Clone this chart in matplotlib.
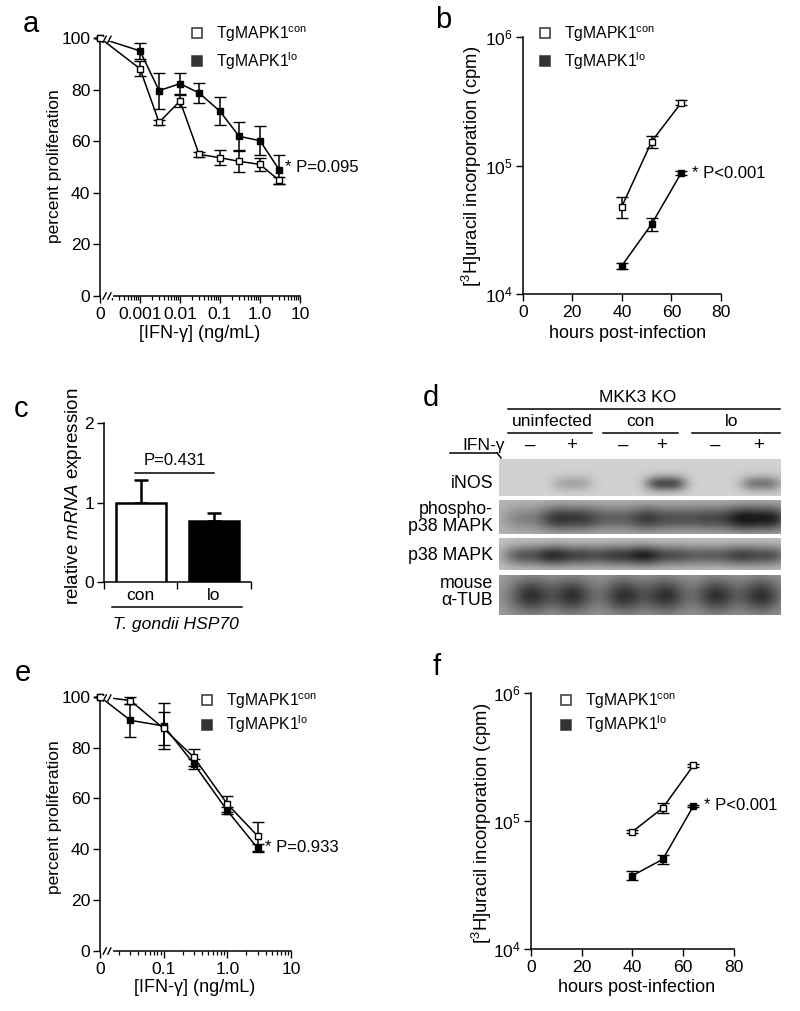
import numpy as np
import matplotlib
matplotlib.use('Agg')
import matplotlib.pyplot as plt
from matplotlib.lines import Line2D
from matplotlib.ticker import FixedLocator, NullLocator

W, H = 800, 1011
HF = 'Liberation Sans'
VF = 'Liberation Sans'

plt.rcParams['font.family'] = [HF, 'DejaVu Sans']
plt.rcParams['mathtext.fontset'] = 'custom'
plt.rcParams['mathtext.rm'] = HF
plt.rcParams['mathtext.it'] = HF + ':italic'
plt.rcParams['mathtext.sf'] = HF
plt.rcParams['axes.linewidth'] = 1.1

TICK = 12.6
XLAB = 13.0
LEG = 11.3
PTXT = 12.0
LET = 21

# ---------------- data ----------------
# panel a
a_dose = [0, 0.001, 0.003, 0.01, 0.03, 0.1, 0.3, 1.0, 3.0]
a_con = [100, 88.1, 67.3, 75.6, 54.9, 53.6, 52.2, 51.0, 44.8]
a_con_err = [0, 3.0, 1.0, 2.5, 1.0, 3.0, 4.0, 2.5, 1.5]
a_lo = [100, 95.0, 79.6, 82.3, 78.7, 71.6, 61.9, 60.2, 49.0]
a_lo_err = [0, 3.0, 7.0, 4.0, 4.0, 5.5, 5.5, 5.5, 5.5]
a_ticklabels = ['0', '0.001', '0.01', '0.1', '1.0', '10']

# panel b
b_hours = [40, 52, 64]
b_con = [4.8e4, 1.54e5, 3.1e5]
b_con_err = [9e3, 1.6e4, 1.5e4]
b_lo = [1.66e4, 3.5e4, 8.8e4]
b_lo_err = [8e2, 4e3, 3e3]

# panel c
c_groups = ['con', 'lo']
c_vals = [1.0, 0.768]
c_err = [0.29, 0.105]

# panel d (western blot)
d_rows = ['iNOS', 'phospho-\np38 MAPK', 'p38 MAPK', 'mouse\nα-TUB']
d_groups = ['uninfected', 'con', 'lo']
d_ifn = ['-', '+', '-', '+', '-', '+']
d_band = [
    [0.0, 0.25, 0.0, 0.75, 0.0, 0.5],
    [0.35, 0.8, 0.55, 0.65, 0.7, 1.0],
    [0.65, 0.75, 0.8, 0.7, 0.6, 0.7],
    [0.8, 0.8, 0.8, 0.8, 0.8, 0.8],
]

# panel e
e_dose = [0, 0.03, 0.1, 0.3, 1.0, 3.0]
e_con = [100, 98.5, 87.5, 76.1, 57.8, 45.2]
e_con_err = [0, 1.5, 6.5, 3.5, 3.0, 5.7]
e_lo = [100, 90.7, 88.5, 73.5, 55.2, 40.4]
e_lo_err = [0, 6.5, 9.0, 2.0, 1.5, 1.5]
e_ticklabels = ['0', '0.1', '1.0', '10']

# panel f
f_hours = [40, 52, 64]
f_con = [8.2e4, 1.26e5, 2.7e5]
f_con_err = [2e3, 1.1e4, 8e3]
f_lo = [3.72e4, 5.0e4, 1.3e5]
f_lo_err = [3e3, 4e3, 3e3]

legend_labels = ['TgMAPK1$^{\\mathrm{con}}$', 'TgMAPK1$^{\\mathrm{lo}}$']

# ---------------- helpers ----------------
fig = plt.figure(figsize=(W / 100, H / 100), dpi=100)
fig.patch.set_facecolor('white')


def add_ax(l, t, r, b):
    return fig.add_axes([l / W, 1 - b / H, (r - l) / W, (b - t) / H])


def ftext(x, y, s, **kw):
    kw.setdefault('ha', 'center')
    kw.setdefault('va', 'center')
    fig.text(x / W, 1 - y / H, s, **kw)


def fline(x1, y1, x2, y2, lw=1.1):
    fig.add_artist(Line2D([x1 / W, x2 / W], [1 - y1 / H, 1 - y2 / H],
                          transform=fig.transFigure, color='black', lw=lw))


def style(ax):
    for s in ['top', 'right']:
        ax.spines[s].set_visible(False)
    ax.tick_params(direction='out', length=5, width=1.0, labelsize=TICK, pad=2)
    ax.tick_params(which='minor', length=2.6, width=0.9)
    ax.patch.set_alpha(0)


def eb(ax, x, y, e, filled):
    c = ax.errorbar(x, y, yerr=e, color='black', lw=1.1, marker='s', ms=4.5,
                    mfc='black' if filled else 'white', mec='black', mew=1.0,
                    elinewidth=1.1, capsize=4, capthick=1.1,
                    zorder=3 if filled else 4)
    for art in c.get_children():
        art.set_clip_on(False)


def legend(ax, x, y, spacing):
    hs = [Line2D([], [], ls='none', marker='s', ms=7.5, mfc='white', mec='#333333', mew=1.1),
          Line2D([], [], ls='none', marker='s', ms=7.5, mfc='#333333', mec='#333333', mew=1.1)]
    ax.legend(hs, legend_labels, loc='upper left', bbox_to_anchor=(x / W, 1 - y / H),
              bbox_transform=fig.transFigure, frameon=False, fontsize=LEG,
              handlelength=0.8, handletextpad=0.8, labelspacing=spacing,
              borderpad=0, borderaxespad=0)


def breakmark(ax, xf, yf):
    ax.plot([xf - 0.02, xf + 0.02], [yf, yf], transform=ax.transAxes, color='white',
            lw=3, clip_on=False, zorder=6)
    for dx in (-0.012, 0.012):
        ax.plot([xf + dx - 0.008, xf + dx + 0.008], [yf - 0.012, yf + 0.012],
                transform=ax.transAxes, color='black', lw=1.0, clip_on=False, zorder=7)


def dose_panel(box, dose, con, con_err, lo, lo_err, zero, xmax, ticklabels, decades):
    ax = add_ax(*box)
    style(ax)
    ax.set_xscale('log')
    ax.set_xlim(zero, xmax)
    ax.set_ylim(0, 100)
    xs = [zero if d == 0 else d for d in dose]
    eb(ax, xs, lo, lo_err, True)
    eb(ax, xs, con, con_err, False)
    majors = [zero] + [10.0 ** k for k in range(int(round(np.log10(zero))) + 1,
                                                 int(round(np.log10(xmax))) + 1)]
    ax.xaxis.set_major_locator(FixedLocator(majors))
    ax.set_xticklabels(ticklabels)
    ax.xaxis.set_minor_locator(FixedLocator([k * 10.0 ** e for e in decades for k in range(2, 10)]))
    ax.set_yticks([0, 20, 40, 60, 80, 100])
    ax.tick_params(axis='x', pad=3)
    return ax


# ---------------- panel a ----------------
axa = dose_panel((100, 38, 300, 296), a_dose, a_con, a_con_err, a_lo, a_lo_err,
                 1e-4, 10, a_ticklabels, range(-4, 1))
breakmark(axa, 0.035, 0.0)
breakmark(axa, 0.035, 0.995)
legend(axa, 191, 24, 0.42)
ftext(285, 168, '* P=0.095', ha='left', fontsize=PTXT)
ftext(200, 334, '[IFN-γ] (ng/mL)', fontsize=XLAB)
ftext(55, 166, 'percent proliferation', rotation=90, family=VF, fontsize=12.5)
ftext(31, 24, 'a', fontsize=LET)

# ---------------- panel b / f ----------------
def uracil_panel(box, hours, con, con_err, lo, lo_err):
    ax = add_ax(*box)
    style(ax)
    ax.set_yscale('log')
    ax.set_ylim(1e4, 1e6)
    ax.set_xlim(0, 80)
    eb(ax, hours, lo, lo_err, True)
    eb(ax, hours, con, con_err, False)
    ax.set_yticks([1e4, 1e5, 1e6])
    ax.set_yticklabels(['$10^{4}$', '$10^{5}$', '$10^{6}$'])
    ax.yaxis.set_minor_locator(NullLocator())
    ax.set_xticks([0, 20, 40, 60, 80])
    ax.tick_params(axis='x', pad=3)
    return ax


axb = uracil_panel((522.7, 37.3, 721, 294), b_hours, b_con, b_con_err, b_lo, b_lo_err)
legend(axb, 539, 24, 0.42)
ftext(692, 174, '* P<0.001', ha='left', fontsize=PTXT)
ftext(628, 334, 'hours post-infection', fontsize=XLAB)
ftext(472, 166, '[$^{3}$H]uracil incorporation (cpm)', rotation=90, family=VF, fontsize=13.3)
ftext(443, 20, 'b', fontsize=LET)

axf = uracil_panel((530.7, 692.7, 734, 948.7), f_hours, f_con, f_con_err, f_lo, f_lo_err)
legend(axf, 560, 691, 0.2)
ftext(704, 806, '* P<0.001', ha='left', fontsize=PTXT)
ftext(637, 988, 'hours post-infection', fontsize=XLAB)
ftext(482, 823, '[$^{3}$H]uracil incorporation (cpm)', rotation=90, family=VF, fontsize=13.3)
ftext(437, 667, 'f', fontsize=LET)

# ---------------- panel e ----------------
axe = dose_panel((100, 696.7, 291, 951), e_dose, e_con, e_con_err, e_lo, e_lo_err,
                 1e-2, 10, e_ticklabels, range(-2, 1))
breakmark(axe, 0.037, 0.0)
breakmark(axe, 0.037, 0.995)
legend(axe, 201, 691, 0.2)
ftext(265, 847, '* P=0.933', ha='left', fontsize=PTXT)
ftext(195, 988, '[IFN-γ] (ng/mL)', fontsize=XLAB)
ftext(55, 817, 'percent proliferation', rotation=90, family=VF, fontsize=12.5)
ftext(23, 673, 'e', fontsize=LET)

# ---------------- panel c ----------------
axc = add_ax(104, 423.3, 250.7, 582.3)
style(axc)
axc.set_xlim(-0.5, 1.5)
axc.set_ylim(0, 2)
axc.bar(range(len(c_vals)), c_vals, width=0.68, color=['white', 'black'],
        edgecolor='black', linewidth=1.8, zorder=3,
        yerr=[[0] * len(c_err), c_err],
        error_kw=dict(ecolor='black', elinewidth=1.8, capsize=5, capthick=1.8, zorder=2))
axc.set_yticks([0, 1, 2])
axc.set_xticks([-0.5, 0.5, 1.5])
axc.set_xticklabels(['', '', ''])
axc.set_xticks(range(len(c_groups)), labels=c_groups, minor=True)
axc.tick_params(axis='x', which='minor', length=0, pad=4, labelsize=TICK)
axc.plot([-0.08, 1.0], [1.38, 1.38], color='black', lw=1.1, clip_on=False)
axc.text(0.46, 1.44, 'P=0.431', ha='center', va='bottom', fontsize=PTXT)
fline(111.7, 606.7, 241.7, 606.7)
ftext(176, 625, 'T. gondii HSP70', fontstyle='italic', fontsize=TICK)
ftext(73, 496, 'relative $\\mathit{mRNA}$ expression', rotation=90, family=VF, fontsize=13.5)
ftext(21, 409, 'c', fontsize=LET)

# ---------------- panel d ----------------
axd = add_ax(499, 459, 780, 615)
axd.axis('off')
blot_h, blot_w = 156, 281
row_spans = [(0, 37), (41, 75), (79, 111), (116, 156)]
row_bg = [0.82, 0.72, 0.77, 0.62]
row_cy = [24, 59, 96, 136]
row_sx = [16, 22, 22, 15]
row_sy = [5.5, 9, 7.5, 12]
row_pw = [3, 3, 3, 2]
lane_x = [31, 73, 124, 166, 216, 261]
img = np.ones((blot_h, blot_w))
yy, xx = np.mgrid[0:blot_h, 0:blot_w]
for r, (y0, y1) in enumerate(row_spans):
    sl = slice(y0, y1)
    dark = np.zeros((y1 - y0, blot_w))
    for l, cx in enumerate(lane_x):
        dark += d_band[r][l] * np.exp(-np.abs((xx[sl] - cx) / row_sx[r]) ** row_pw[r] / 2
                                      - ((yy[sl] - row_cy[r]) / row_sy[r]) ** 2 / 2)
    img[sl] = row_bg[r] * (1 - 0.85 * np.clip(dark, 0, 1))
axd.imshow(img, cmap='gray', vmin=0, vmax=1, aspect='auto', interpolation='bilinear',
           extent=(0, blot_w, blot_h, 0))
axd.set_xlim(0, blot_w)
axd.set_ylim(blot_h, 0)

ftext(431, 398, 'd', fontsize=LET)
ftext(638, 398, 'MKK3 KO', fontsize=TICK)
fline(508, 409, 780, 409)
grp_x = [552, 640, 732]
grp_lines = [(508, 592), (603, 678), (692, 780)]
for g, gx, (l0, l1) in zip(d_groups, grp_x, grp_lines):
    ftext(gx, 421, g, fontsize=TICK)
    fline(l0, 433, l1, 433)
ftext(505, 445, 'IFN-γ', ha='right', fontsize=TICK)
fline(450, 452.7, 497, 452.7)
fline(497, 452.7, 501, 458)
ifn_x = [530, 572, 623, 662, 715, 759]
for s, x in zip(d_ifn, ifn_x):
    ftext(x, 445, '–' if s == '-' else '+', fontsize=13.5)
row_label_y = [483, 518, 555, 592]
for lab, y in zip(d_rows, row_label_y):
    ftext(493, y, lab, ha='right', fontsize=12.8, linespacing=0.95)

fig.savefig('out.png', dpi=100, facecolor='white')
